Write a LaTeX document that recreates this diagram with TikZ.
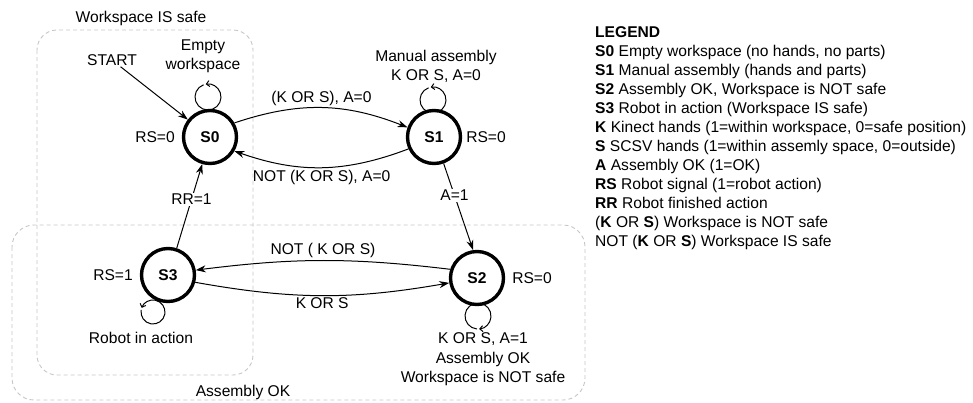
\documentclass[tikz,border=0pt]{standalone}
\usepackage{fontspec}
\setmainfont{Liberation Sans}
\usetikzlibrary{arrows.meta}
\begin{document}
\begin{tikzpicture}[x=1pt,y=-1pt,
  txt/.style={font=\fontsize{15.6}{19}\selectfont, inner sep=1pt, align=center},
  state/.style={circle, draw, line width=3.4pt, minimum size=53pt, inner sep=0pt, font=\fontsize{15.6}{19}\selectfont\bfseries},
  edge/.style={line width=1pt, -{Stealth[length=10pt,width=7pt]}},
  loopc/.style={line width=1pt, -{Straight Barb[length=3pt,width=6pt]}},
  zone/.style={draw=gray!45, dash pattern=on 4pt off 3pt, line width=0.9pt, rounded corners=20pt},
  lbl/.style={txt, fill=white, inner sep=1.5pt},
  leg/.style={font=\fontsize{15.6}{19}\selectfont, inner sep=0pt, anchor=base west}
]
\useasboundingbox (0,0) rectangle (973,402);

% zones
\draw[zone] (37,30) rectangle (253,375);
\draw[zone, rounded corners=22pt] (12,225) rectangle (585,400);
\node[txt] (zsafe) at (141,18) {Workspace IS safe};
\node[txt] (zok) at (243,392) {Assembly OK};

% loops
\draw[loopc] (208,97) ++(250:13) arc[start angle=250, end angle=-100, radius=13];
\draw[loopc] (433,100) ++(250:13) arc[start angle=250, end angle=-100, radius=13];
\draw[loopc] (153,312) ++(190:12) arc[start angle=190, end angle=-160, radius=12];
\draw[loopc] (478,316) ++(-265:13) arc[start angle=-265, end angle=85, radius=13];

% states
\node[state, fill=white] (S0) at (210,137) {S0};
\node[state, fill=white] (S1) at (434,137) {S1};
\node[state, fill=white] (S2) at (477,278) {S2};
\node[state, fill=white] (S3) at (168,275) {S3};

% state texts
\node[txt] (rs0) at (155,137) {RS=0};
\node[txt] (rs1) at (486,137) {RS=0};
\node[txt] (rs2) at (532,278) {RS=0};
\node[txt] (rs3) at (113,275) {RS=1};
\node[txt] (empty) at (203,56) {Empty\\workspace};
\node[txt] (manual) at (436,66.5) {Manual assembly\\K OR S, A=0};
\node[txt] (robot) at (141,338) {Robot in action};
\node[txt, font=\fontsize{15.6}{19.5}\selectfont] (s2txt) at (483,359.5) {K OR S, A=1\\Assembly OK\\Workspace is NOT safe};
\node[txt] (start) at (112,60) {START};

% edges
\draw[edge] (start) -- (S0);
\draw[edge] (S0.30) to[bend left=20] node[txt, midway, above=1pt] (l01) {(K OR S), A=0} (S1.160);
\draw[edge] (S1.205) to[bend left=20] node[txt, midway, below=1pt] (l10) {NOT (K OR S), A=0} (S0.-30);
\draw[edge] (S1.-70) -- node[lbl, pos=0.37] (l12) {A=1} (S2.98);
\draw[edge] (S3.72) -- node[lbl, pos=0.58] (l30) {RR=1} (S0.-106);
\draw[edge] (S2.162) to[bend right=7] node[txt, midway, above=1pt] (l23) {NOT ( K OR S)} (S3.10);
\draw[edge] (S3.-15) to[bend right=10] node[txt, midway, below=1pt] (l32) {K OR S} (S2.190);

% legend
\node[leg] (lg0) at (595,37.5) {\textbf{LEGEND}};
\node[leg] (lg1) at (595,56.5) {\textbf{S0} Empty workspace (no hands, no parts)};
\node[leg] (lg2) at (595,75.5) {\textbf{S1} Manual assembly (hands and parts)};
\node[leg] (lg3) at (595,94.5) {\textbf{S2} Assembly OK, Workspace is NOT safe};
\node[leg] (lg4) at (595,113.5) {\textbf{S3} Robot in action (Workspace IS safe)};
\node[leg] (lg5) at (595,132.5) {\textbf{K} Kinect hands (1=within workspace, 0=safe position)};
\node[leg] (lg6) at (595,151.5) {\textbf{S} SCSV hands (1=within assemly space, 0=outside)};
\node[leg] (lg7) at (595,170.5) {\textbf{A} Assembly OK (1=OK)};
\node[leg] (lg8) at (595,189.5) {\textbf{RS} Robot signal (1=robot action)};
\node[leg] (lg9) at (595,208.5) {\textbf{RR} Robot finished action};
\node[leg] (lg10) at (595,227.5) {(\textbf{K} OR \textbf{S}) Workspace is NOT safe};
\node[leg] (lg11) at (595,246.5) {NOT (\textbf{K} OR \textbf{S}) Workspace IS safe};
\end{tikzpicture}
\end{document}
